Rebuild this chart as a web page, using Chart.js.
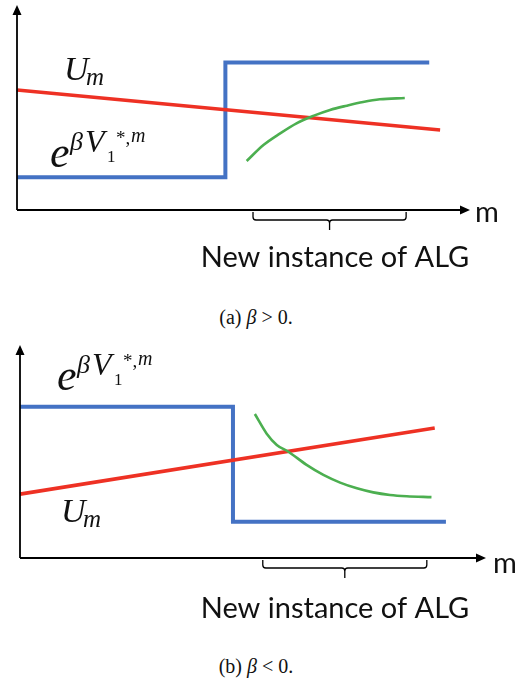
<!DOCTYPE html>
<html>
<head>
<meta charset="utf-8">
<script src="https://cdn.jsdelivr.net/npm/chart.js@4.4.1/dist/chart.umd.min.js"></script>
<style>
  html, body { margin: 0; padding: 0; background: #fff; }
  body { width: 521px; height: 683px; position: relative; overflow: hidden; }
  canvas { position: absolute; left: 0; }
  .caption { position: absolute; left: 0; width: 512px; text-align: center; font-family: "Liberation Serif", "DejaVu Serif", serif; font-size: 20px; line-height: 20px; color: #111; }
</style>
</head>
<body>
<canvas id="chartA" width="521" height="300" style="top:0"></canvas>
<div class="caption" style="top:307px">(a) <i>β</i> &gt; 0.</div>
<canvas id="chartB" width="521" height="320" style="top:330px"></canvas>
<div class="caption" style="top:656px">(b) <i>β</i> &lt; 0.</div>
<script>
// (a) beta > 0   -- schematic units, axes run 0..100
const stepXA = [0, 46, 46, 91];
const stepYA = [16, 16, 72, 72];
const utilXA = [0, 93.4];
const utilYA = [58.5, 39];
const newAlgXA = [50.7, 54.4, 58.1, 61.7, 65.4, 69.1, 72.8, 76.4, 80.1, 85.6];
const newAlgYA = [23.9, 31.7, 37.4, 42.3, 45.9, 48.8, 50.9, 52.7, 54.0, 54.6];
const bracketA = [52.1, 85.9];

// (b) beta < 0
const stepXB = [0, 45.7, 45.7, 91.4];
const stepYB = [71, 71, 17, 17];
const utilXB = [0, 89];
const utilYB = [30, 61];
const newAlgXB = [50.4, 52.9, 55.1, 57.6, 61.5, 65.1, 68.7, 72.3, 75.8, 79.4, 83.0, 88.3];
const newAlgYB = [67.6, 58.5, 53.1, 49.9, 43.7, 39.0, 35.4, 32.7, 30.8, 29.6, 29.0, 28.6];
const bracketB = [52.1, 87.3];

const BLUE = '#4472C4';
const RED = '#EE3124';
const GREEN = '#4CAF50';
const MATH = '"Liberation Serif", "DejaVu Serif", serif';

const pts = (xs, ys) => xs.map((v, i) => ({ x: v, y: ys[i] }));

// pieces of the two math labels, relative to the main glyph baseline
const expLabel = [
  { t: 'e', dx: 0, dy: 0, size: 44, it: true },
  { t: 'β', dx: 20, dy: -17, size: 26, it: true },
  { t: 'V', dx: 35, dy: -15, size: 32, it: true },
  { t: '1', dx: 57, dy: -5, size: 17, it: false },
  { t: '*,', dx: 66, dy: -23, size: 19, it: false },
  { t: 'm', dx: 81, dy: -25, size: 20, it: true }
];
const utilLabel = [
  { t: 'U', dx: 0, dy: 0, size: 34, it: true },
  { t: 'm', dx: 22, dy: 5, size: 25, it: true }
];

function drawMath(ctx, pieces, ox, oy) {
  ctx.textAlign = 'left';
  ctx.textBaseline = 'alphabetic';
  pieces.forEach(p => {
    ctx.font = (p.it ? 'italic ' : '') + p.size + 'px ' + MATH;
    ctx.fillText(p.t, ox + p.dx, oy + p.dy);
  });
}

const sketch = {
  id: 'sketch',
  afterDatasetsDraw(chart, args, o) {
    const { ctx } = chart;
    const x = chart.scales.x, y = chart.scales.y;
    const x0 = x.getPixelForValue(0), y0 = y.getPixelForValue(0);
    const xEnd = x.getPixelForValue(100), yEnd = y.getPixelForValue(100);
    ctx.save();
    ctx.strokeStyle = '#000';
    ctx.fillStyle = '#000';
    ctx.lineWidth = 1.8;
    ctx.beginPath();
    ctx.moveTo(x0, y0); ctx.lineTo(x0, yEnd + 6);
    ctx.moveTo(x0, y0); ctx.lineTo(xEnd - 6, y0);
    ctx.stroke();
    ctx.beginPath();
    ctx.moveTo(x0, yEnd); ctx.lineTo(x0 - 4.5, yEnd + 10); ctx.lineTo(x0 + 4.5, yEnd + 10); ctx.closePath();
    ctx.moveTo(xEnd, y0); ctx.lineTo(xEnd - 10, y0 - 4.5); ctx.lineTo(xEnd - 10, y0 + 4.5); ctx.closePath();
    ctx.fill();

    // curly brace under the axis
    const bl = x.getPixelForValue(o.bracket[0]);
    const br = x.getPixelForValue(o.bracket[1]);
    const bm = (bl + br) / 2;
    const top = y0 + 2, mid = y0 + 10, tip = y0 + 20, r = 3;
    ctx.lineWidth = 1.3;
    ctx.beginPath();
    ctx.moveTo(bl, top);
    ctx.arcTo(bl, mid, bl + r, mid, r);
    ctx.arcTo(bm, mid, bm, mid + r, r);
    ctx.lineTo(bm, tip);
    ctx.moveTo(bm, mid + r);
    ctx.arcTo(bm, mid, bm + r, mid, r);
    ctx.arcTo(br, mid, br, top, r);
    ctx.lineTo(br, top);
    ctx.stroke();

    ctx.fillStyle = '#111';
    ctx.font = '29px Lato, "Open Sans", sans-serif';
    ctx.textAlign = 'left';
    ctx.textBaseline = 'alphabetic';
    ctx.fillText('m', xEnd + o.mOff[0], y0 + o.mOff[1]);
    ctx.textAlign = 'center';
    ctx.fillText('New instance of ALG', o.textX, y0 + o.textDy);

    drawMath(ctx, expLabel, o.expAt[0], o.expAt[1]);
    drawMath(ctx, utilLabel, o.utilAt[0], o.utilAt[1]);
    ctx.restore();
  }
};

function makeChart(id, d, pad, extra) {
  return new Chart(document.getElementById(id), {
    type: 'scatter',
    data: {
      datasets: [
        { data: pts(d.nx, d.ny), borderColor: GREEN, borderWidth: 2.6, showLine: true, tension: 0.4, cubicInterpolationMode: 'monotone', pointRadius: 0, clip: false, order: 1 },
        { data: pts(d.ux, d.uy), borderColor: RED, borderWidth: 3.6, showLine: true, pointRadius: 0, clip: false, order: 2 },
        { data: pts(d.sx, d.sy), borderColor: BLUE, borderWidth: 4, showLine: true, pointRadius: 0, clip: false, order: 3 }
      ]
    },
    options: {
      responsive: false,
      animation: false,
      layout: { padding: pad },
      scales: {
        x: { type: 'linear', min: 0, max: 100, display: false },
        y: { type: 'linear', min: 0, max: 100, display: false }
      },
      plugins: {
        legend: { display: false },
        tooltip: { enabled: false },
        sketch: extra
      }
    },
    plugins: [sketch]
  });
}

makeChart('chartA',
  { sx: stepXA, sy: stepYA, ux: utilXA, uy: utilYA, nx: newAlgXA, ny: newAlgYA },
  { left: 17, right: 51, top: 5, bottom: 90 },
  { bracket: bracketA, textX: 335, textDy: 57, mOff: [5, 12], expAt: [50, 167], utilAt: [64, 80] });

makeChart('chartB',
  { sx: stepXB, sy: stepYB, ux: utilXB, uy: utilYB, nx: newAlgXB, ny: newAlgYB },
  { left: 20, right: 35, top: 15, bottom: 92 },
  { bracket: bracketB, textX: 335, textDy: 60, mOff: [7, 15], expAt: [57, 60], utilAt: [61, 192] });
</script>
</body>
</html>
